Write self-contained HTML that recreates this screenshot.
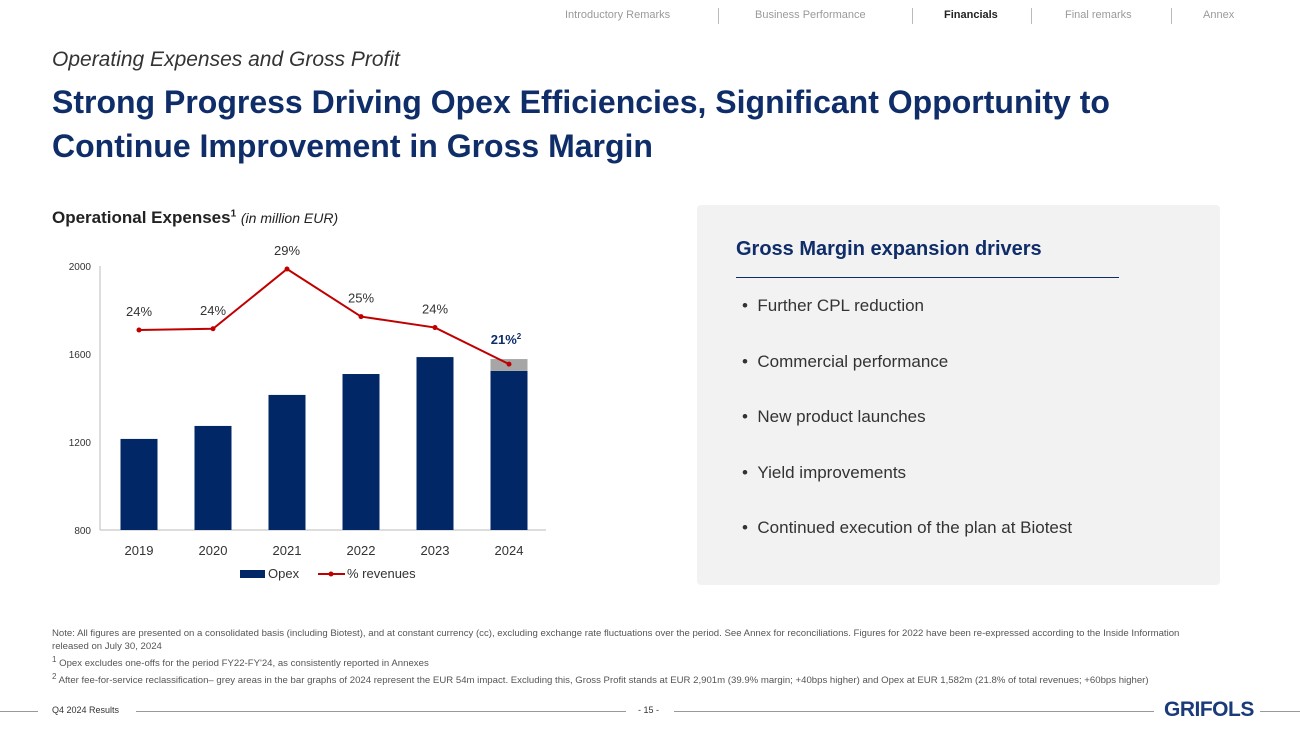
<!DOCTYPE html>
<html><head><meta charset="utf-8">
<style>
body{margin:0;width:1300px;height:731px;background:#fff;font-family:"Liberation Sans",sans-serif;position:relative;overflow:hidden}
.a{position:absolute;white-space:nowrap}
.nav{top:9px;font-size:11px;color:#9a9a9a}
.sep{position:absolute;top:8px;width:1px;height:16px;background:#bbb}
</style></head><body>
<div class="a nav" style="left:565px">Introductory Remarks</div>
<div class="sep" style="left:718px"></div>
<div class="a nav" style="left:755px">Business Performance</div>
<div class="sep" style="left:912px"></div>
<div class="a nav" style="left:944px;color:#222;font-weight:bold">Financials</div>
<div class="sep" style="left:1031px"></div>
<div class="a nav" style="left:1065px">Final remarks</div>
<div class="sep" style="left:1171px"></div>
<div class="a nav" style="left:1203px">Annex</div>

<div class="a" style="left:52px;top:48px;font-size:21px;font-style:italic;color:#333">Operating Expenses and Gross Profit</div>
<div class="a" style="left:52px;top:80px;font-size:32px;font-weight:bold;color:#0f2d69;line-height:44px">Strong Progress Driving Opex Efficiencies, Significant Opportunity to<br>Continue Improvement in Gross Margin</div>

<div class="a" style="left:52px;top:208px;font-size:17px;font-weight:bold;color:#222">Operational Expenses<sup style="font-size:10px">1</sup> <span style="font-weight:normal;font-style:italic;font-size:14px">(in million EUR)</span></div>

<svg class="a" style="left:0;top:0" width="600" height="600" id="chart"></svg>

<div class="a" style="left:697px;top:205px;width:523px;height:380px;background:#f2f2f2;border-radius:4px">
<div class="a" style="left:39px;top:33px;font-size:20px;font-weight:bold;color:#0f2d69">Gross Margin expansion drivers</div>
<div class="a" style="left:39px;top:72px;width:383px;height:1px;background:#0f2d69"></div>
<div class="a" style="left:45px;top:73px;font-size:17px;color:#333;line-height:55.5px">
• &nbsp;Further CPL reduction<br>• &nbsp;Commercial performance<br>• &nbsp;New product launches<br>• &nbsp;Yield improvements<br>• &nbsp;Continued execution of the plan at Biotest</div>
</div>

<div class="a" style="left:52px;top:627px;font-size:9.6px;color:#555;line-height:13px">Note: All figures are presented on a consolidated basis (including Biotest), and at constant currency (cc), excluding exchange rate fluctuations over the period. See Annex for reconciliations. Figures for 2022 have been re-expressed according to the Inside Information<br>released on July 30, 2024<br><sup>1</sup> Opex excludes one-offs for the period FY22-FY'24, as consistently reported in Annexes<br><sup>2</sup> After fee-for-service reclassification– grey areas in the bar graphs of 2024 represent the EUR 54m impact. Excluding this, Gross Profit stands at EUR 2,901m (39.9% margin; +40bps higher) and Opex at EUR 1,582m (21.8% of total revenues; +60bps higher)</div>

<div class="a" style="left:0;top:711px;width:38px;height:1px;background:#999"></div>
<div class="a" style="left:52px;top:705px;font-size:9px;color:#333">Q4 2024 Results</div>
<div class="a" style="left:136px;top:711px;width:490px;height:1px;background:#999"></div>
<div class="a" style="left:638px;top:705px;font-size:9px;color:#333">- 15 -</div>
<div class="a" style="left:674px;top:711px;width:480px;height:1px;background:#999"></div>
<div class="a" style="left:1164px;top:698px;font-size:21px;font-weight:bold;color:#1a3a7a;letter-spacing:-0.5px">GRIFOLS</div>
<div class="a" style="left:1260px;top:711px;width:40px;height:1px;background:#999"></div>

<script>
const categories=["2019","2020","2021","2022","2023","2024"];
const opex=[1214,1273,1414,1509,1586,1523];
const greyImpact=[0,0,0,0,0,54];
const pctRevenue=[24.0,24.1,29.0,25.1,24.2,21.2];
const pctLabels=["24%","24%","29%","25%","24%","21%"];
const yTicks=[800,1200,1600,2000];
const NS="http://www.w3.org/2000/svg";
const svg=document.getElementById('chart');
const x0=100,x1=546,yBase=530,yTop=266;
const xc=i=>x0+39+74*i;
const yv=v=>yBase-(v-800)*(yBase-yTop)/(2000-800);
const yp=p=>269+(29-p)*12.2;
function mk(t,a){const e=document.createElementNS(NS,t);for(const k in a)e.setAttribute(k,a[k]);svg.appendChild(e);return e;}
let e=mk('line',{x1:x0,y1:yTop,x2:x0,y2:yBase,stroke:'#bbb'});

e=mk('line',{x1:x0,y1:yBase,x2:x1,y2:yBase,stroke:'#bbb'});

yTicks.forEach(t=>{const el=mk('text',{x:x0-9,y:yv(t)+4,'text-anchor':'end','font-size':10,fill:'#333'});el.textContent=t;
});
categories.forEach((c,i)=>{
 const cx=xc(i);
 let b=mk('rect',{x:cx-18.5,y:yv(opex[i]),width:37,height:yBase-yv(opex[i]),fill:'#012766'});
 
 if(greyImpact[i]>0){let g=mk('rect',{x:cx-18.5,y:yv(opex[i]+greyImpact[i]),width:37,height:yv(opex[i])-yv(opex[i]+greyImpact[i]),fill:'#a6a6a6'});
 }
 let t=mk('text',{x:cx,y:555,'text-anchor':'middle','font-size':13,fill:'#333'});t.textContent=c;
 
});
const pts=pctRevenue.map((p,i)=>xc(i)+','+yp(p)).join(' ');
let l=mk('polyline',{points:pts,fill:'none',stroke:'#c00000','stroke-width':2});

pctRevenue.forEach((p,i)=>{
 let d=mk('circle',{cx:xc(i),cy:yp(p),r:2.5,fill:'#c00000'});
 
 const last=i===categories.length-1;
 let t=mk('text',{x:xc(i)+(last?-3:0),y:yp(p)-(last?20:14),'text-anchor':'middle','font-size':13,fill:last?'#0f2d69':'#333','font-weight':last?'bold':'normal'});
 t.textContent=pctLabels[i];
 if(last){const s=document.createElementNS(NS,'tspan');s.setAttribute('font-size',8);s.setAttribute('dy',-5);s.textContent='2';t.appendChild(s);}
 
});
let lg=mk('rect',{x:240,y:570,width:25,height:8,fill:'#012766'});
let lt=mk('text',{x:268,y:578,'font-size':13,fill:'#333'});lt.textContent='Opex';
let ll=mk('line',{x1:318,y1:574,x2:345,y2:574,stroke:'#c00000','stroke-width':2});
mk('circle',{cx:331,cy:574,r:2.5,fill:'#c00000'});
let lt2=mk('text',{x:347,y:578,'font-size':13,fill:'#333'});lt2.textContent='% revenues';
</script>
</body></html>
